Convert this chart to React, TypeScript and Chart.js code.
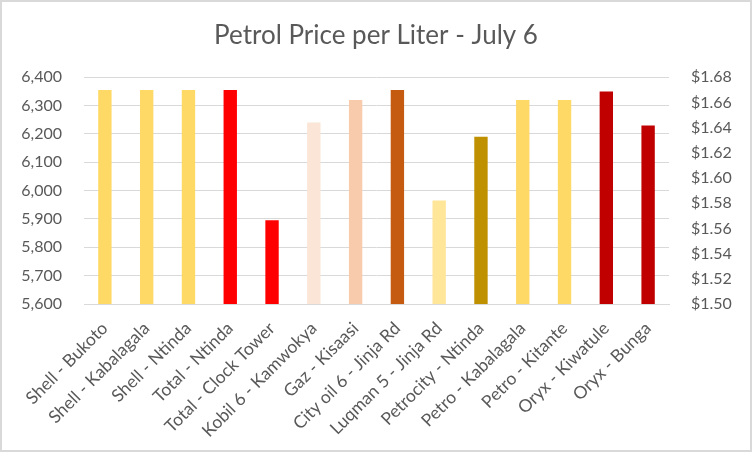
import { useEffect, useRef } from "react";
import { Chart, registerables } from "chart.js";

Chart.register(...registerables);

// stations and price per liter (UGX)
const stations = [
  "Shell - Bukoto",
  "Shell - Kabalagala",
  "Shell - Ntinda",
  "Total - Ntinda",
  "Total - Clock Tower",
  "Kobil 6 - Kamwokya",
  "Gaz - Kisaasi",
  "City oil 6 - Jinja Rd",
  "Luqman 5 - Jinja Rd",
  "Petrocity - Ntinda",
  "Petro - Kabalagala",
  "Petro - Kitante",
  "Oryx - Kiwatule",
  "Oryx - Bunga",
];
const pricesUgx = [
  6355, 6355, 6355, 6355, 5895, 6240, 6320, 6355, 5965, 6190, 6320, 6320, 6350,
  6230,
];
const barColors = [
  "#FFD966", "#FFD966", "#FFD966", "#FF0000", "#FF0000", "#FBE5D6", "#F8CBAD",
  "#C55A11", "#FFE699", "#BF9000", "#FFD966", "#FFD966", "#C00000", "#C00000",
];
// axis ranges
const ugxRange = [5600, 6400];
const usdRange = [1.5, 1.68];

const textColor = "#595959";
const gridColor = "#D9D9D9";
const font = "Lato";

const App = () => {
  const canvasRef = useRef<HTMLCanvasElement>(null);

  useEffect(() => {
    if (!canvasRef.current) return;
    const chart = new Chart(canvasRef.current, {
      type: "bar",
      data: {
        labels: stations,
        datasets: [
          {
            label: "Price",
            data: pricesUgx,
            backgroundColor: barColors,
            barPercentage: 0.32,
            categoryPercentage: 1,
            yAxisID: "y",
          },
        ],
      },
      options: {
        responsive: false,
        animation: false,
        layout: { padding: 0 },
        plugins: {
          legend: { display: false },
          tooltip: { enabled: false },
          title: {
            display: true,
            text: "Petrol Price per Liter - July 6",
            color: textColor,
            font: { family: font, size: 26, weight: "normal", lineHeight: 1.2 },
            padding: { top: 18, bottom: 26 },
          },
        },
        scales: {
          x: {
            grid: { display: false },
            border: { color: gridColor },
            ticks: {
              color: textColor,
              font: { family: font, size: 17.5 },
              minRotation: 45,
              maxRotation: 45,
              autoSkip: false,
              padding: 6,
            },
            afterFit: (s: any) => {
              s.height = 146;
            },
          },
          y: {
            position: "left",
            min: ugxRange[0],
            max: ugxRange[1],
            grid: { color: gridColor, drawTicks: false },
            border: { display: false },
            ticks: {
              stepSize: 100,
              color: textColor,
              font: { family: font, size: 16 },
              padding: 22,
              callback: (v: any) => Number(v).toLocaleString("en-US"),
            },
            afterFit: (s: any) => {
              s.width = 82;
            },
          },
          y1: {
            position: "right",
            min: usdRange[0],
            max: usdRange[1],
            grid: { display: false, drawTicks: false },
            border: { display: false },
            ticks: {
              stepSize: 0.02,
              color: textColor,
              font: { family: font, size: 16 },
              padding: 22,
              callback: (v: any) => "$" + Number(v).toFixed(2),
            },
            afterFit: (s: any) => {
              s.width = 81;
            },
          },
        },
      },
    });
    return () => {
      chart.destroy();
    };
  }, []);

  return (
    <div
      style={{
        position: "absolute",
        left: 0,
        top: 0,
        width: 752,
        height: 452,
        boxSizing: "border-box",
        border: `2px solid ${gridColor}`,
        background: "#fff",
      }}
    >
      <canvas ref={canvasRef} width={748} height={448} style={{ display: "block" }} />
    </div>
  );
};

export default App;
